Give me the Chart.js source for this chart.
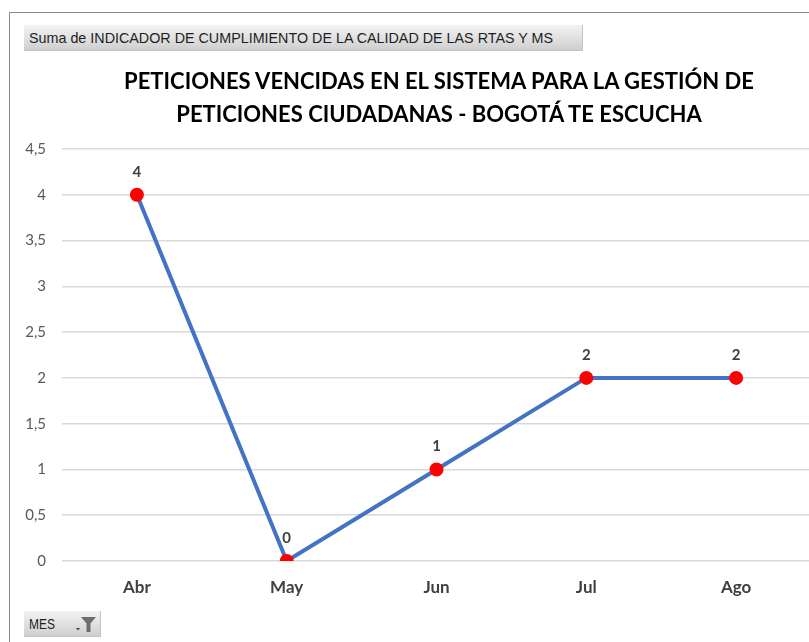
<!DOCTYPE html>
<html>
<head>
<meta charset="utf-8">
<script src="https://cdn.jsdelivr.net/npm/chart.js@4"></script>
<style>
  html, body { margin: 0; padding: 0; background: #fff; overflow: hidden; }
  #wrap { position: relative; width: 809px; height: 642px; overflow: hidden; }
  #frame { position: absolute; left: 9px; top: 12px; width: 820px; height: 650px; border: 1px solid #8c8c8c; box-sizing: border-box; }
  canvas { position: absolute; left: 0; top: 0; }
  .btn {
    position: absolute; box-sizing: border-box; height: 26px;
    background: linear-gradient(#f3f3f3, #cfcfcf);
    border-right: 1px solid #c4c4c4; border-bottom: 1px solid #c4c4c4;
    font-family: "Liberation Sans Narrow", "Arial Narrow", "Liberation Sans", sans-serif;
    font-size: 15px; color: #1f1f1f; line-height: 26px; white-space: nowrap;
  }
  .btn span { position: absolute; left: 5px; top: 0; transform-origin: 0 50%; }
  #title {
    position: absolute; left: 0; width: 878px; top: 64px; text-align: center;
    font-family: Lato, "Noto Sans", sans-serif; font-weight: bold; font-size: 22px;
    line-height: 33px; color: #000;
  }
</style>
</head>
<body>
<div id="wrap">
  <div id="frame"></div>
  <canvas id="chart" width="820" height="642"></canvas>
  <div class="btn" style="left:24px; top:25px; width:559px;"><span data-w="524">Suma de INDICADOR DE CUMPLIMIENTO DE LA CALIDAD DE LAS RTAS Y MS</span></div>
  <div id="title">PETICIONES VENCIDAS EN EL SISTEMA PARA LA GESTIÓN DE<br>PETICIONES CIUDADANAS - BOGOTÁ TE ESCUCHA</div>
  <div class="btn" style="left:24px; top:611px; width:77px;"><span data-w="26">MES</span>
    <svg width="22" height="18" viewBox="0 0 22 18" style="position:absolute; left:51px; top:4px;">
      <path d="M1 13 L5 13 L3 15.5 Z" fill="#404040"/>
      <path d="M6 2 L21 2 L15.5 8.5 L15.5 17 L11.5 17 L11.5 8.5 Z" fill="#6d6d6d"/>
    </svg>
  </div>
</div>
<script>
// Datos del gráfico
const meses = ["Abr", "May", "Jun", "Jul", "Ago"];
const valores = [4, 0, 1, 2, 2];

// Ajustar el ancho de los textos de los botones
document.querySelectorAll(".btn span").forEach((s) => {
  const w = s.getBoundingClientRect().width;
  s.style.transform = "scaleX(" + Number(s.dataset.w) / w + ")";
});

// Etiquetas de datos encima de cada punto
const etiquetasPlugin = {
  id: "etiquetas",
  afterDatasetsDraw(chart) {
    const ctx = chart.ctx;
    const meta = chart.getDatasetMeta(0);
    ctx.save();
    ctx.font = "bold 15px Lato, 'Noto Sans', sans-serif";
    ctx.fillStyle = "#404040";
    ctx.textAlign = "center";
    ctx.textBaseline = "middle";
    meta.data.forEach((pt, i) => {
      ctx.fillText(String(valores[i]), pt.x, pt.y - 23);
    });
    ctx.restore();
  },
};

const ctx = document.getElementById("chart").getContext("2d");
new Chart(ctx, {
  type: "line",
  data: {
    labels: meses,
    datasets: [
      {
        data: valores,
        borderColor: "#4472C4",
        borderWidth: 4,
        pointBackgroundColor: "#FF0000",
        pointBorderColor: "#FF0000",
        pointRadius: 5,
        tension: 0,
      },
    ],
  },
  options: {
    responsive: false,
    animation: false,
    layout: { padding: { top: 149, right: 8, left: 0, bottom: 0 } },
    plugins: { legend: { display: false }, tooltip: { enabled: false } },
    scales: {
      x: {
        offset: true,
        grid: { display: false },
        border: { display: false },
        ticks: {
          color: "#404040",
          padding: 8,
          font: { family: "Lato, 'Noto Sans', sans-serif", size: 17, weight: "bold" },
        },
        afterFit(scale) { scale.height = 81; },
      },
      y: {
        min: 0,
        max: 4.5,
        grid: { color: "#d9d9d9", lineWidth: 1.5, drawTicks: false },
        border: { display: false },
        ticks: {
          stepSize: 0.5,
          color: "#595959",
          padding: 16,
          font: { family: "Lato, 'Noto Sans', sans-serif", size: 15 },
          callback: (v) => String(v).replace(".", ","),
        },
        afterFit(scale) { scale.width = 62; },
      },
    },
  },
  plugins: [etiquetasPlugin],
});
</script>
</body>
</html>
